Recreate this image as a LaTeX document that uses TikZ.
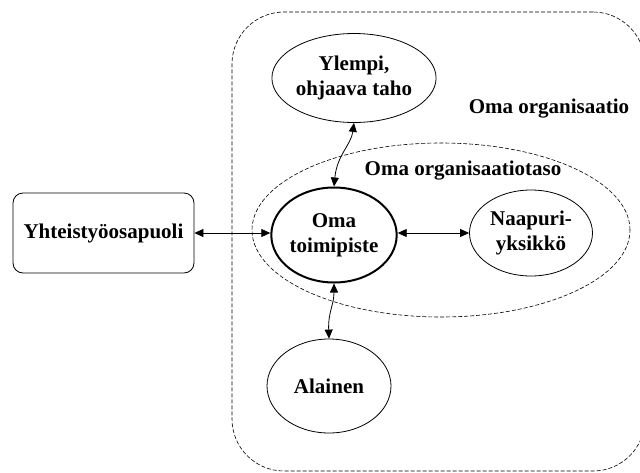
\documentclass[tikz,border=0pt]{standalone}
\usepackage{fontspec}
\setmainfont{Liberation Serif}
\usetikzlibrary{arrows.meta,shapes.geometric}
\begin{document}
\begin{tikzpicture}[x=1pt,y=-1pt,
  txt/.style={font=\fontsize{21}{25}\selectfont\bfseries,align=center},
  ell/.style={ellipse,draw,line width=0.8pt,inner sep=0pt,txt},
  zone/.style={draw,line width=0.6pt,dash pattern=on 4pt off 2pt},
  link/.style={line width=0.8pt,{Triangle[length=9pt,width=8pt]}-{Triangle[length=9pt,width=8pt]}}]
\useasboundingbox (0,0) rectangle (640,472);
\begin{scope}
\clip (0,0) rectangle (640,472);
\node[zone,rectangle,rounded corners=52pt,minimum width=413pt,minimum height=459pt,inner sep=0pt] (org) at (438.5,241.5) {};
\end{scope}
\node[zone,ellipse,minimum width=378pt,minimum height=174pt,inner sep=0pt] (taso) at (441,230) {};
\node[txt,anchor=base] (orgl) at (549,113) {Oma organisaatio};
\node[txt,anchor=base] (tasol) at (463,175) {Oma organisaatiotaso};
\node[draw,rectangle,rounded corners=10pt,line width=0.8pt,minimum width=181pt,minimum height=80pt,inner sep=0pt,txt] (yht) at (103.5,233) {Yhteistyöosapuoli};
\node[ell,line width=2pt,minimum width=122pt,minimum height=95pt] (oma) at (334,235) {Oma\\toimipiste};
\node[ell,minimum width=123pt,minimum height=86pt] (naa) at (531,233) {Naapuri-\\yksikkö};
\node[ell,minimum width=132pt,minimum height=89pt] (ylem) at (354,78) {Ylempi,\\ohjaava taho};
\node[ell,minimum width=124pt,minimum height=94pt] (ala) at (329,386) {Alainen};
\draw[link] (yht.east) -- (oma.west |- yht.east);
\draw[link] (oma.east |- naa.west) -- (naa.west);
\draw[link] (ylem.south) .. controls (351,145) and (337,155) .. (oma.north);
\draw[link] (oma.south) .. controls (334,305) and (328,312) .. (ala.north);
\end{tikzpicture}
\end{document}
